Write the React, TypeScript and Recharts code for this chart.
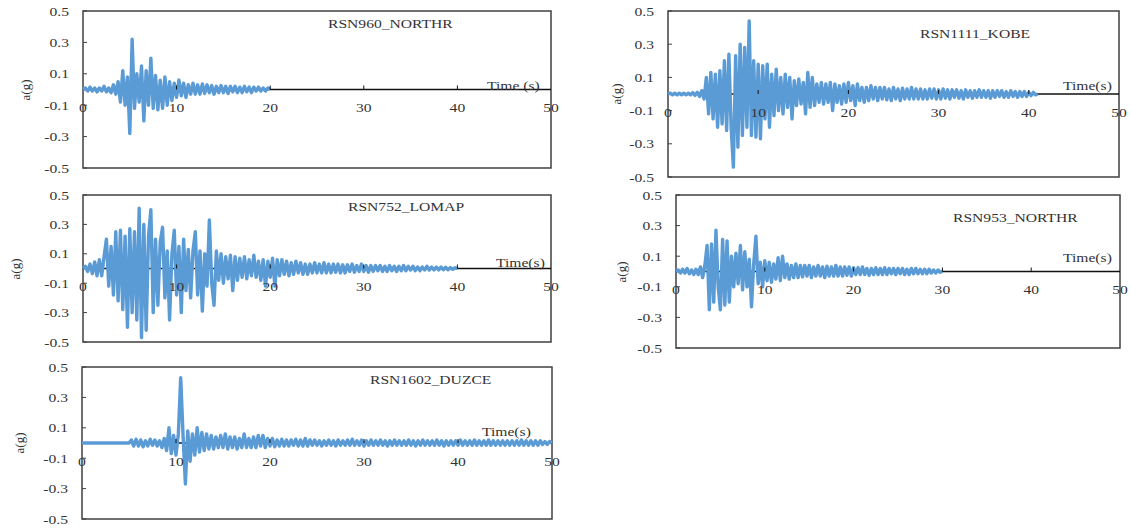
import { LineChart, Line, XAxis, YAxis, ReferenceLine, ReferenceArea } from "recharts";

// sampling step of the hand-read records (s)
const DT = 0.25;

const xTicks = [0, 10, 20, 30, 40, 50];
const yTicks = [-0.5, -0.3, -0.1, 0.1, 0.3, 0.5];

// RSN960_NORTHR, 0-20 s
const rsn960 = [
  0, .01, -.01, .015, -.01, .01, -.015, .01,
  -.01, .02, -.015, .01, -.02, .03, -.03, .05,
  -.08, .12, -.1, .08, -.28, .32, -.12, .1,
  -.08, .15, -.2, .12, -.1, .2, -.12, .09,
  -.13, .06, -.12, .08, -.1, .05, -.07, .04,
  -.05, .06, -.04, .04, -.05, .03, -.03, .04,
  -.03, .03, -.03, .035, -.025, .03, -.02, .025,
  -.03, .02, -.02, .025, -.02, .02, -.025, .02,
  -.015, .02, -.02, .015, -.02, .02, -.015, .015,
  -.02, .015, -.01, .015, -.01, .01, -.01, .01,
  0,
];

// RSN752_LOMAP, 0-40 s
const rsn752 = [
  0, .015, -.02, .03, -.035, .045, -.05, .06,
  -.05, .08, .2, -.12, .15, -.18, .25, -.22,
  .26, -.28, .22, -.4, .27, -.3, .25, -.35,
  .41, -.47, .3, -.42, .22, .4, -.3, .2,
  -.25, .18, .28, -.2, .12, -.35, .1, .26,
  -.18, .15, -.3, .2, -.15, .13, -.2, .12,
  .25, -.18, .12, -.29, .1, -.12, .33, -.1,
  -.25, .12, -.08, .1, -.1, .08, -.07, .09,
  -.15, .08, -.08, .07, -.06, .08, -.07, .06,
  -.05, .09, -.06, .05, -.08, .06, -.12, .05,
  -.06, .07, -.12, .06, -.05, .06, -.04, .05,
  -.05, .04, -.04, .05, -.03, .04, -.04, .03,
  -.04, .03, -.03, .04, -.03, .03, -.03, .04,
  -.03, .03, -.03, .03, -.025, .03, -.03, .025,
  -.03, .025, -.02, .03, -.025, .02, -.02, .03,
  -.02, .02, -.025, .02, -.02, .02, -.015, .02,
  -.02, .015, -.02, .02, -.015, .015, -.02, .015,
  -.015, .02, -.015, .015, -.01, .015, -.015, .01,
  -.015, .01, -.01, .015, -.01, .01, -.01, .01,
  -.01, .01, -.008, .008, -.008, .006, -.005, .005,
  0,
];

// RSN1602_DUZCE, 0-50 s
const rsn1602 = [
  0, 0, 0, 0, 0, 0, 0, 0,
  0, 0, 0, 0, 0, 0, 0, 0,
  0, 0, 0, 0, 0, .02, -.02, .025,
  -.02, .02, -.025, .015, -.02, .025, -.015, .02,
  -.02, .015, -.03, .03, -.05, .1, -.07, .05,
  -.08, .06, .43, .05, -.27, .08, -.12, .06,
  -.08, .1, -.06, .07, -.05, .06, -.04, .05,
  -.04, .04, -.03, .05, -.03, .06, -.04, .04,
  -.03, .04, -.04, .03, -.03, .06, -.03, .03,
  -.03, .04, -.03, .05, -.02, .05, -.03, .03,
  -.02, .03, -.025, .02, -.02, .025, -.02, .02,
  -.02, .02, -.015, .025, -.02, .02, -.02, .03,
  -.02, .02, -.015, .02, -.015, .015, -.02, .015,
  -.015, .02, -.015, .015, -.02, .02, -.015, .015,
  -.015, .02, -.015, .025, -.015, .015, -.015, .02,
  -.02, .015, -.015, .02, -.015, .015, -.015, .02,
  -.015, .015, -.02, .015, -.015, .02, -.015, .015,
  -.015, .015, -.015, .02, -.015, .015, -.02, .015,
  -.015, .02, -.015, .015, -.015, .015, -.015, .02,
  -.015, .015, -.02, .015, -.015, .015, -.015, .015,
  -.015, .02, -.015, .015, -.015, .015, -.015, .02,
  -.015, .015, -.015, .015, -.015, .02, -.015, .015,
  -.015, .015, -.015, .015, -.015, .015, -.015, .015,
  -.015, .015, -.015, .02, -.015, .015, -.015, .015,
  -.015, .015, -.015, .015, -.01, .01, -.01, .01,
  0,
];

// RSN1111_KOBE, 0-41 s
const rsn1111 = [
  0, .005, -.005, .005, -.005, .005, -.005, .005,
  -.005, .005, -.005, .008, -.008, .01, -.015, .02,
  -.03, .1, -.12, .13, -.15, .12, -.2, .14,
  -.18, .2, -.22, .24, -.2, -.44, .23, -.32,
  .3, -.25, .28, -.2, .44, -.25, .2, -.26,
  .18, -.27, .17, -.15, .18, -.2, .12, -.13,
  .15, -.1, .1, -.12, .12, -.08, .1, -.15,
  .08, -.07, .09, -.06, .07, -.12, .13, -.08,
  .1, -.07, .06, -.05, .07, -.06, .06, -.05,
  .07, -.1, .06, -.05, .05, -.06, .06, -.05,
  .07, -.04, .05, -.07, .06, -.04, .04, -.05,
  .04, -.04, .05, -.03, .04, -.04, .04, -.03,
  .04, -.035, .03, -.04, .04, -.03, .03, -.04,
  .035, -.03, .03, -.03, .04, -.03, .03, -.03,
  .03, -.03, .025, -.03, .03, -.025, .03, -.03,
  .025, -.03, .03, -.025, .025, -.03, .025, -.02,
  .025, -.025, .02, -.03, .025, -.02, .02, -.025,
  .02, -.02, .025, -.02, .02, -.02, .02, -.025,
  .02, -.02, .02, -.015, .02, -.02, .015, -.02,
  .02, -.015, .015, -.02, .015, -.015, .015, -.015,
  .01, -.01, .01, -.005,
  0,
];

// RSN953_NORTHR, 0-30 s
const rsn953 = [
  0, .01, -.01, .015, -.01, .02, -.015, .01,
  -.02, .015, -.02, .03, -.04, .04, .17, -.25,
  .18, -.2, .27, -.1, -.25, .21, -.22, .2,
  -.2, .1, -.1, .12, -.08, .17, -.12, .13,
  -.1, .08, -.23, .05, .23, -.08, .06, -.1,
  .07, -.06, .06, -.07, .05, -.05, .09, -.06,
  .1, -.04, .05, -.05, .04, -.04, .05, -.04,
  .04, -.035, .04, -.03, .04, -.04, .03, -.03,
  .04, -.03, .03, -.04, .035, -.03, .03, -.03,
  .04, -.03, .03, -.03, .03, -.025, .03, -.03,
  .025, -.02, .025, -.02, .03, -.02, .02, -.025,
  .02, -.02, .025, -.02, .02, -.02, .025, -.02,
  .02, -.015, .02, -.02, .02, -.015, .02, -.02,
  .015, -.02, .02, -.015, .02, -.015, .015, -.015,
  .015, -.015, .015, -.01, .01, -.01, .01, -.005,
  0,
];

const FONT = '"Liberation Serif", "Times New Roman", serif';
const INK = "#333";
const SQUEEZE = 1.2; // source figure is stretched horizontally

const toRows = (values: number[]) => values.map((a, i) => ({ t: i * DT, a }));

type Panel = {
  title: string;
  values: number[];
  timeLabel: string;
  chartLeft: number;
  left: number;
  top: number;
  right: number;
  bottom: number;
  titleX: number;
  titleY: number;
  timeX: number;
  timeY: number;
  agX: number;
};

const panels: Panel[] = [
  { title: "RSN960_NORTHR", values: rsn960, timeLabel: "Time (s)", chartLeft: 0, left: 83, top: 11, right: 551, bottom: 168, titleX: 328, titleY: 24, timeX: 487, timeY: 86, agX: 26 },
  { title: "RSN752_LOMAP", values: rsn752, timeLabel: "Time(s)", chartLeft: 0, left: 83, top: 195, right: 551, bottom: 342, titleX: 348, titleY: 207, timeX: 496, timeY: 263, agX: 16 },
  { title: "RSN1602_DUZCE", values: rsn1602, timeLabel: "Time(s)", chartLeft: 0, left: 82, top: 367, right: 552, bottom: 519, titleX: 370, titleY: 380, timeX: 482, timeY: 432, agX: 20 },
  { title: "RSN1111_KOBE", values: rsn1111, timeLabel: "Time(s)", chartLeft: 590, left: 668, top: 11, right: 1119, bottom: 177, titleX: 920, titleY: 34, timeX: 1063, timeY: 86, agX: 617 },
  { title: "RSN953_NORTHR", values: rsn953, timeLabel: "Time(s)", chartLeft: 590, left: 676, top: 195, right: 1120, bottom: 348, titleX: 953, titleY: 218, timeX: 1063, timeY: 258, agX: 622 },
];

const XTick = (props: any) => {
  const { x, payload, zeroY } = props;
  const v = payload.value;
  return (
    <g>
      {v > 0 && v < 50 && <line x1={x} x2={x} y1={zeroY - 4} y2={zeroY} stroke="#111" strokeWidth={1} />}
      <text
        transform={`translate(${x},${zeroY + 18}) scale(${SQUEEZE},1)`}
        textAnchor="middle"
        dy="0.35em"
        fontSize={13}
        fontFamily={FONT}
        fill={INK}
      >
        {v}
      </text>
    </g>
  );
};

const YTick = (props: any) => {
  const { y, payload, axisX } = props;
  return (
    <g>
      <line x1={axisX} x2={axisX + 4} y1={y} y2={y} stroke="#404040" strokeWidth={1} />
      <text
        transform={`translate(${axisX - 14},${y}) scale(${SQUEEZE},1)`}
        textAnchor="end"
        dy="0.35em"
        fontSize={13}
        fontFamily={FONT}
        fill={INK}
      >
        {String(payload.value)}
      </text>
    </g>
  );
};

const Label = ({ x, y, children }: { x: number; y: number; children: string }) => (
  <div
    style={{
      position: "absolute",
      left: x,
      top: y - 8,
      fontFamily: FONT,
      fontSize: 13,
      lineHeight: "16px",
      color: INK,
      whiteSpace: "nowrap",
      transform: `scaleX(${SQUEEZE})`,
      transformOrigin: "left center",
    }}
  >
    {children}
  </div>
);

const Record = ({ p }: { p: Panel }) => {
  const m = 16;
  const yw = p.left - p.chartLeft;
  const boxW = p.right - p.left;
  const boxH = p.bottom - p.top;
  const zeroY = m + boxH / 2;
  return (
    <>
      <div style={{ position: "absolute", left: p.chartLeft, top: p.top - m }}>
        <LineChart
          width={yw + boxW + m}
          height={boxH + 2 * m}
          data={toRows(p.values)}
          margin={{ top: m, right: m, bottom: 0, left: 0 }}
        >
          <XAxis
            dataKey="t"
            type="number"
            domain={[0, 50]}
            ticks={xTicks}
            interval={0}
            height={m}
            axisLine={false}
            tickLine={false}
            tick={(props: any) => <XTick {...props} zeroY={zeroY} />}
          />
          <YAxis
            type="number"
            domain={[-0.5, 0.5]}
            ticks={yTicks}
            interval={0}
            width={yw}
            axisLine={false}
            tickLine={false}
            tick={(props: any) => <YTick {...props} axisX={yw} />}
          />
          <ReferenceLine y={0} stroke="#111" strokeWidth={1.4} />
          <Line
            type="linear"
            dataKey="a"
            stroke="#5B9BD5"
            strokeWidth={3.4}
            strokeLinejoin="round"
            dot={false}
            isAnimationActive={false}
          />
          <ReferenceArea x1={0} x2={50} y1={-0.5} y2={0.5} fill="none" fillOpacity={0} stroke="#404040" strokeWidth={1.5} />
        </LineChart>
      </div>
      <Label x={p.titleX} y={p.titleY}>{p.title}</Label>
      <Label x={p.timeX} y={p.timeY}>{p.timeLabel}</Label>
      <div
        style={{
          position: "absolute",
          left: p.agX,
          top: (p.top + p.bottom) / 2,
          transform: "translate(-50%, -50%) rotate(-90deg)",
          fontFamily: FONT,
          fontSize: 13,
          color: INK,
          whiteSpace: "nowrap",
        }}
      >
        a(g)
      </div>
    </>
  );
};

export default function App() {
  return (
    <div style={{ position: "absolute", left: 0, top: 0, width: 1131, height: 528, background: "#fff", overflow: "hidden" }}>
      {panels.map((p) => (
        <Record key={p.title} p={p} />
      ))}
    </div>
  );
}
